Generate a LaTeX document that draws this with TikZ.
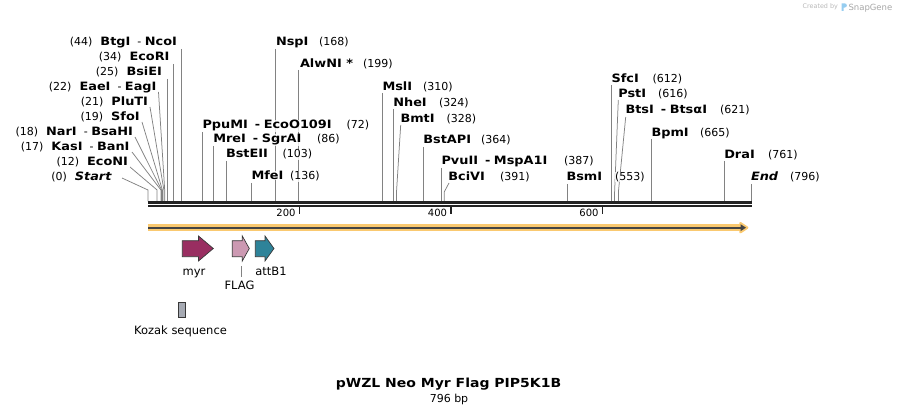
\documentclass[tikz,border=0pt]{standalone}
\usepackage{fontspec}
\setmainfont{DejaVu Sans}[BoldFont={DejaVu Sans Bold}, ItalicFont={DejaVu Sans Oblique}, BoldItalicFont={DejaVu Sans Bold Oblique}, BoldFeatures={FakeStretch=1.12}, BoldItalicFeatures={FakeStretch=1.12}]
\definecolor{myrc}{RGB}{153,46,97}
\definecolor{flagc}{RGB}{204,153,178}
\definecolor{attc}{RGB}{46,131,153}
\definecolor{kozc}{RGB}{166,170,179}
\definecolor{bandc}{RGB}{250,201,112}
\definecolor{darkc}{RGB}{68,68,68}
\definecolor{cutc}{RGB}{130,130,130}
\definecolor{logoc}{RGB}{150,205,240}
\definecolor{mainc}{RGB}{34,34,34}
\newcommand\enzsep{\hspace{7pt}-\hspace{3.5pt}}
\newcommand\numgap{\hspace{8pt}}
\newcommand\bn[1]{{\fontsize{11.5}{13}\selectfont\bfseries #1}}
\begin{document}
\begin{tikzpicture}[x=1pt,y=-1pt,
  cut/.style={draw=cutc, line width=0.75pt},
  lbl/.style={inner sep=0.3pt, fill=white, fill opacity=0.8, text opacity=1, font=\fontsize{11}{13}\selectfont},
  nmr/.style={lbl, anchor=base west, font=\fontsize{11.5}{13}\selectfont\bfseries},
  nmu/.style={lbl, anchor=base west},
  nml/.style={lbl, anchor=base east},
  feat/.style={draw=black!78, line width=0.7pt, line join=miter},
  ftxt/.style={font=\fontsize{11.5}{13}\selectfont, anchor=base, inner sep=0},
  ticklbl/.style={font=\fontsize{10}{12}\selectfont, anchor=base east, inner sep=0},
]
\useasboundingbox (0,0) rectangle (900,414);

% ---- cut-site lines ----
\foreach \x/\t in {181.3/49, 173.8/64, 166.9/79, 275.3/49, 298.7/70, 202.5/132, 213.1/146, 226.0/161, 251.0/183, 382.8/93, 393.4/109, 423.7/147, 441.2/168, 566.9/184, 611.6/85, 651.7/139, 724.5/161, 751.0/184}
  \draw[cut] (\x,\t) -- (\x,201.5);
\foreach \a/\b/\x in {158.5/92/164.7, 150/107/163.9, 142/122/162.4, 135/137/161.6, 132/152/160.9, 130/167/157.1, 122/178/148.0}
  \draw[cut] (\a,\b) -- (\x,190) -- (\x,201.5);
\foreach \a/\b/\x in {400.7/125/396.5, 449/183/444.2, 618.3/100/614.6, 625.7/117/618.4}
  \draw[cut] (\a,\b) -- (\x,192) -- (\x,201.5);

% ---- backbone ----
\draw[mainc, line width=2.6pt] (148,202.6) -- (751.5,202.6);
\draw[mainc, line width=2pt] (148,206.3) -- (751.5,206.3);
\foreach \x/\l in {299.5/200, 451/400, 602.5/600}{
  \draw[mainc, line width=1.7pt] (\x,207) -- (\x,214);
  \node[ticklbl] (t\l) at ({\x-3.8},217) {\l};
}

% ---- left labels ----
\node[nml] (e44) at (177.5,46) {(44)\numgap\bn{BtgI}\enzsep\bn{NcoI}};
\node[nml] (e34) at (170,61) {(34)\numgap\bn{EcoRI}};
\node[nml] (e25) at (162.5,76) {(25)\numgap\bn{BsiEI}};
\node[nml] (e22) at (157,91) {(22)\numgap\bn{EaeI}\enzsep\bn{EagI}};
\node[nml] (e21) at (148.5,106) {(21)\numgap\bn{PluTI}};
\node[nml] (e19) at (140.2,121) {(19)\numgap\bn{SfoI}};
\node[nml] (e18) at (133.5,136) {(18)\numgap\bn{NarI}\enzsep\bn{BsaHI}};
\node[nml] (e17) at (130,151) {(17)\numgap\bn{KasI}\enzsep\bn{BanI}};
\node[nml] (e12) at (128.5,166) {(12)\numgap\bn{EcoNI}};
\node[nml] (e0) at (112,181) {(0)\numgap\bn{\itshape Start}};

% ---- right labels ----
\node[nmr] (n168) at (275.5,46) {NspI};          \node[nmu] (p168) at (318.5,46) {(168)};
\node[nmr] (n199) at (299.5,67.3) {AlwNI *};     \node[nmu] (p199) at (362.5,67.3) {(199)};
\node[nmr] (n72) at (202,129) {PpuMI\enzsep EcoO109I}; \node[nmu] (p72) at (346,129) {(72)};
\node[nmr] (n86) at (212.8,143) {MreI\enzsep SgrAI};   \node[nmu] (p86) at (316.5,143) {(86)};
\node[nmr] (n103) at (225.5,158) {BstEII};       \node[nmu] (p103) at (282,158) {(103)};
\node[nmr] (n136) at (251,180) {MfeI};           \node[nmu] (p136) at (289.5,180) {(136)};
\node[nmr] (n310) at (382,90.7) {MslI};          \node[nmu] (p310) at (422.5,90.7) {(310)};
\node[nmr] (n324) at (392.8,106.3) {NheI};       \node[nmu] (p324) at (438.5,106.3) {(324)};
\node[nmr] (n328) at (400,122.3) {BmtI};         \node[nmu] (p328) at (446,122.3) {(328)};
\node[nmr] (n364) at (422.8,144) {BstAPI};       \node[nmu] (p364) at (480.5,144) {(364)};
\node[nmr] (n387) at (441,164.7) {PvuII\enzsep MspA1I}; \node[nmu] (p387) at (563.5,164.7) {(387)};
\node[nmr] (n391) at (447.8,180.7) {BciVI};      \node[nmu] (p391) at (499.5,180.7) {(391)};
\node[nmr] (n553) at (566,180.7) {BsmI};         \node[nmu] (p553) at (614.5,180.7) {(553)};
\node[nmr] (n612) at (611,82.3) {SfcI};          \node[nmu] (p612) at (652,82.3) {(612)};
\node[nmr] (n616) at (617.8,97.3) {PstI};        \node[nmu] (p616) at (657.5,97.3) {(616)};
\node[nmr] (n621) at (625,113.5) {BtsI\enzsep BtsαI}; \node[nmu] (p621) at (719.5,113.5) {(621)};
\node[nmr] (n665) at (651,136.3) {BpmI};         \node[nmu] (p665) at (699.5,136.3) {(665)};
\node[nmr] (n761) at (723.8,158.3) {DraI};       \node[nmu] (p761) at (767.5,158.3) {(761)};
\node[nmr] (n796) at (750.5,180.7) {\itshape End}; \node[nmu] (p796) at (789.5,180.7) {(796)};

% ---- orange direction arrow ----
\draw[bandc, line width=6.4pt] (148.3,227.7) -- (742,227.7);
\filldraw[bandc, line width=2.4pt, line join=round] (740.5,223.2) -- (747.2,227.7) -- (740.5,232.2) -- cycle;
\draw[darkc, line width=1.9pt] (148.3,227.7) -- (741,227.7);
\fill[darkc] (740.5,224.2) -- (746,227.7) -- (740.5,231.2) -- cycle;

% ---- features ----
\filldraw[feat, fill=myrc] (182.3,240.7) -- (198.5,240.7) -- (198.5,236) -- (213.3,248.5) -- (198.5,261) -- (198.5,256.7) -- (182.3,256.7) -- cycle;
\filldraw[feat, fill=flagc] (232.3,240.7) -- (242.3,240.7) -- (242.3,236) -- (249.3,248.5) -- (242.3,261) -- (242.3,256.7) -- (232.3,256.7) -- cycle;
\filldraw[feat, fill=attc] (255.3,240.7) -- (265,240.7) -- (265,236) -- (274,248.5) -- (265,261) -- (265,256.7) -- (255.3,256.7) -- cycle;
\node[ftxt] (lmyr) at (194,275.7) {myr};
\node[ftxt] (latt) at (271,275.7) {attB1};
\node[ftxt] (lflag) at (239.5,289.3) {FLAG};
\coordinate (flagtop) at (241,266.5);
\coordinate (flagbot) at (241,277);
\draw[cut, line width=0.6pt] (flagtop) -- (flagbot);
\filldraw[feat, fill=kozc] (178.3,302.7) rectangle (185.3,317.3);
\node[ftxt] (lkoz) at (180.5,334.8) {Kozak sequence};

% ---- title ----
\node[anchor=base, inner sep=0, font=\fontsize{12.5}{15}\selectfont\bfseries] (title) at (448.5,387.5) {pWZL Neo Myr Flag PIP5K1B};
\node[anchor=base, inner sep=0, font=\fontsize{11}{13}\selectfont] (len) at (449,402.2) {796 bp};

% ---- credit ----
\node[anchor=base west, inner sep=0, text=black!28, font=\fontsize{6.4}{7}\selectfont] (cby) at (802.5,9) {Created by};
\fill[logoc] (841.5,3.3) -- (844.6,3.3) .. controls (847.6,3.3) and (847.6,7.6) .. (844.6,7.6) -- (843.6,7.6) -- (843.6,10.8) -- (841.5,10.8) -- cycle;
\node[anchor=base west, inner sep=0, text=black!35, font=\fontsize{8.5}{9}\selectfont] (snap) at (848.3,10.3) {SnapGene};
\end{tikzpicture}
\end{document}
